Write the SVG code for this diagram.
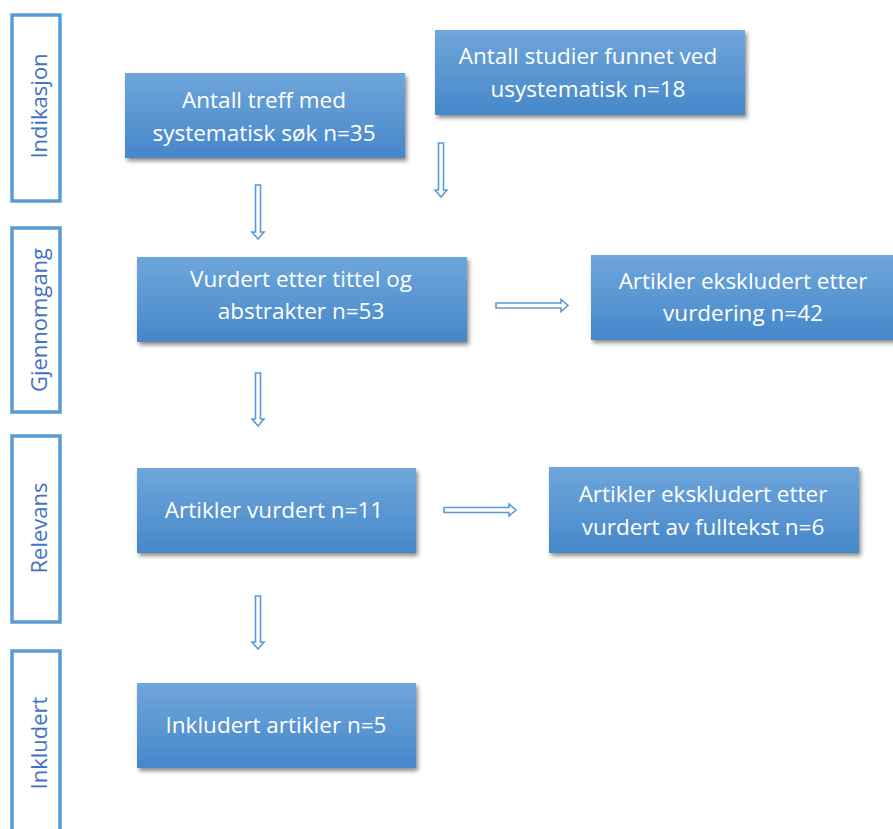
<svg xmlns="http://www.w3.org/2000/svg" width="893" height="829" viewBox="0 0 893 829">
  <defs>
    <linearGradient id="boxGrad" x1="0" y1="0" x2="0" y2="1">
      <stop offset="0" stop-color="#6FA6DB"/>
      <stop offset="1" stop-color="#4687CA"/>
    </linearGradient>
    <filter id="shadow" x="-10%" y="-20%" width="125%" height="150%">
      <feDropShadow dx="2" dy="3" stdDeviation="2.2" flood-color="#000" flood-opacity="0.45"/>
    </filter>
  </defs>
  <style>
    .box { fill: url(#boxGrad); filter: url(#shadow); }
    .btxt { fill: #FFFFFF; font-family: "Open Sans", "Noto Sans", "Liberation Sans", sans-serif; font-size: 22.5px; text-anchor: middle; }
    .side { fill: #FFFFFF; stroke: #5B9BD5; stroke-width: 3.5; }
    .stxt { fill: #4472C4; font-family: "Open Sans", "Noto Sans", "Liberation Sans", sans-serif; font-size: 22px; text-anchor: middle; }
    .arrow { fill: #FFFFFF; stroke: #5B9BD5; stroke-width: 1.6; stroke-linejoin: miter; }
  </style>
  <rect width="893" height="829" fill="#FFFFFF"/>

  <g id="side-indikasjon">
    <rect class="side" x="12" y="15" width="48" height="186"/>
    <text class="stxt" transform="translate(47,106) rotate(-90)">Indikasjon</text>
  </g>
  <g id="side-gjennomgang">
    <rect class="side" x="12" y="228" width="48" height="184"/>
    <text class="stxt" transform="translate(47,320) rotate(-90)">Gjennomgang</text>
  </g>
  <g id="side-relevans">
    <rect class="side" x="12" y="436" width="48" height="186"/>
    <text class="stxt" transform="translate(47,528) rotate(-90)">Relevans</text>
  </g>
  <g id="side-inkludert">
    <rect class="side" x="12" y="651" width="48" height="190"/>
    <text class="stxt" transform="translate(47,743) rotate(-90)">Inkludert</text>
  </g>

  <g id="node-systematisk">
    <rect class="box" x="125" y="73" width="280" height="85"/>
    <text class="btxt" x="264" y="108">Antall treff med</text>
    <text class="btxt" x="264" y="141">systematisk søk n=35</text>
  </g>
  <g id="node-usystematisk">
    <rect class="box" x="435" y="30" width="310" height="85"/>
    <text class="btxt" x="588" y="64">Antall studier funnet  ved</text>
    <text class="btxt" x="588" y="97">usystematisk n=18</text>
  </g>
  <g id="node-vurdert-tittel">
    <rect class="box" x="137" y="257" width="330" height="85"/>
    <text class="btxt" x="301" y="287">Vurdert  etter tittel og</text>
    <text class="btxt" x="301" y="319">abstrakter n=53</text>
  </g>
  <g id="node-ekskludert-vurdering">
    <rect class="box" x="591" y="255" width="310" height="85"/>
    <text class="btxt" x="743" y="289">Artikler ekskludert etter</text>
    <text class="btxt" x="743" y="321">vurdering  n=42</text>
  </g>
  <g id="node-artikler-vurdert">
    <rect class="box" x="137" y="468" width="279" height="85"/>
    <text class="btxt" x="274" y="518">Artikler vurdert n=11</text>
  </g>
  <g id="node-ekskludert-fulltekst">
    <rect class="box" x="549" y="467" width="310" height="86"/>
    <text class="btxt" x="703" y="502">Artikler ekskludert etter</text>
    <text class="btxt" x="703" y="535">vurdert av fulltekst n=6</text>
  </g>
  <g id="node-inkludert">
    <rect class="box" x="137" y="683" width="279" height="85"/>
    <text class="btxt" x="276" y="733">Inkludert artikler n=5</text>
  </g>

  <g id="connectors">
    <polygon class="arrow" points="255.5,185 260.5,185 260.5,232 264,232 258,239 252,232 255.5,232"/>
    <polygon class="arrow" points="438.5,143 443.5,143 443.5,190 447,190 441,197 435,190 438.5,190"/>
    <polygon class="arrow" points="496,303 561,303 561,299.5 568,305.5 561,311.5 561,308 496,308"/>
    <polygon class="arrow" points="255.5,373 260.5,373 260.5,419 264,419 258,426 252,419 255.5,419"/>
    <polygon class="arrow" points="444,507.5 509,507.5 509,504 516,510 509,516 509,512.5 444,512.5"/>
    <polygon class="arrow" points="255.5,596 260.5,596 260.5,642 264,642 258,649 252,642 255.5,642"/>
  </g>
</svg>
